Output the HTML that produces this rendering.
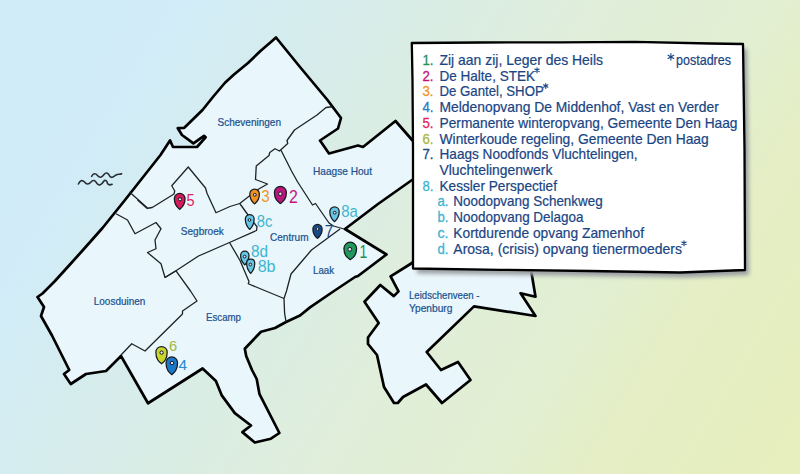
<!DOCTYPE html><html><head><meta charset="utf-8"><style>html,body{margin:0;padding:0;width:800px;height:474px;overflow:hidden;}svg{display:block;font-family:"Liberation Sans",sans-serif;}</style></head><body><svg width="800" height="474" viewBox="0 0 800 474">
<defs><linearGradient id="bg" gradientUnits="userSpaceOnUse" x1="0" y1="0" x2="796" y2="478"><stop offset="0" stop-color="#d0ecf9"/><stop offset="0.16" stop-color="#d1ecf8"/><stop offset="0.39" stop-color="#d9ede6"/><stop offset="0.55" stop-color="#e0eedb"/><stop offset="0.73" stop-color="#e2efd0"/><stop offset="0.8" stop-color="#e5eec5"/><stop offset="1" stop-color="#e7efbe"/></linearGradient>
<filter id="sh" x="-10%" y="-10%" width="130%" height="130%"><feGaussianBlur stdDeviation="2.2"/></filter></defs>
<rect width="800" height="474" fill="url(#bg)"/>
<path d="M91.6,176.3 C93.5,173 95.5,173 97.5,175.5 C99.5,178 101.5,178 104,174.5 C106,172 108,172.5 110,176.5 C112,179 114,176 116,175 C118,174 120,174.5 121.6,173.7" fill="none" stroke="#2a2f36" stroke-width="1.6" stroke-linecap="round"/>
<path d="M78.4,184 C80,180.5 82,179.5 84.5,182 C86.5,184.5 88.5,185 91,182 C93,179.5 95,180 97,183.5 C99,186 101.5,185 103.5,181.5 C105.5,179 107,181 107.5,183.5 C108.5,185 110.5,185 112.1,184.3" fill="none" stroke="#2a2f36" stroke-width="1.6" stroke-linecap="round"/>
<polygon points="430,240 412,263 390.6,276.4 398.5,291.4 393.8,296.1 380.3,285 364.5,301.7 378.7,323 368,337.5 368,344 377,355 384,387 394,403 397.75,403 403,397 415,390.5 426,384.5 442,403 470.5,380 458,362 441,370 426.7,352 474,306.4 535.5,316 520.6,293.25 535.5,296.75 532,275.75 525,240" fill="#e9f6fc" stroke="#000" stroke-width="2.7" stroke-linejoin="round"/>
<polygon points="276,37.5 300,67 327.5,100 341,118 338,128.5 320,140.5 329,153.5 358,145.5 363,147 395.5,121 413,141 440,150 440,175 412,180 378,204 345,229 386.5,254.5 358,276 355,277 334,291 310,307.4 300,315.5 286,322 275,328 261,331.7 244.8,348.7 246.2,356 252,370 256.7,379 259.5,394.2 279.4,433 270.9,438.7 254.8,442.5 242.4,432.1 251,425.5 234.8,413.1 221.6,395.1 215.9,380.9 202.6,368.5 148,403.25 121,356 106,371 86,374 70.75,384 64,374 69.25,370 52,335.5 41,316 44,307 37.5,297 42.5,293.5 54.5,281.5 69.5,265 83,250 102.5,228 125,200 160.5,155 170,140.4 173,147 197,147 205.6,137.3 204,135.8 193.4,143.4 182,135 177.8,128.2 184.3,127.8 202.5,110 213.75,96 225,82.75 234,74.5 248,63 261,50.5 271.5,41.5" fill="#e9f6fc" stroke="#000" stroke-width="2.7" stroke-linejoin="round"/>
<polyline points="332,106.75 326,107.5 317,115 294.5,130 287,140.5 287.75,143.5 279.5,151 275,148.75 269.75,152.5 269,155.5 256.25,166 255.5,179.5 267.5,184 257,190 239.75,203.5 230,206.5 216,212.75 207,193.25 205.5,188 188.25,167 171.75,185.75 174.75,191 174,194 152.25,207.5 147.75,208.25 129.5,192" fill="none" stroke="#1e2326" stroke-width="1.3" stroke-linejoin="round"/>
<polyline points="281,150.25 291.5,171 297.5,181.75 312.5,205 315.5,203.5 329,223 333.5,226 344,229" fill="none" stroke="#1e2326" stroke-width="1.3" stroke-linejoin="round"/>
<polyline points="239.75,203.5 249.5,217 257,226.75 256.5,230.5 229.5,242.5 198.5,256 176,270.8 165,277.5" fill="none" stroke="#1e2326" stroke-width="1.3" stroke-linejoin="round"/>
<polyline points="116,213.75 127.5,220 135,233.75 156,222.5 161,228.75 155,240 156,248.75 147.5,252.5 161,263.75 165,277.5 176,270.8" fill="none" stroke="#1e2326" stroke-width="1.3" stroke-linejoin="round"/>
<polyline points="176,270.8 190.5,291 197,301 182.5,311 182.5,314 145,351 131.75,343.75 121,355" fill="none" stroke="#1e2326" stroke-width="1.3" stroke-linejoin="round"/>
<polyline points="229.5,242.5 240,260.5 249,281.5 248.25,283.75 267,291.5 284,298.5" fill="none" stroke="#1e2326" stroke-width="1.3" stroke-linejoin="round"/>
<polyline points="340,229 311.5,250 300,263.5 291,274 286.5,291 284,298.5 284.6,313.3 286.1,322.1" fill="none" stroke="#1e2326" stroke-width="1.3" stroke-linejoin="round"/>
<polyline points="137.5,200 147.5,208.75" fill="none" stroke="#1e2326" stroke-width="1.3" stroke-linejoin="round"/>
<text x="217.5" y="125.5" font-size="10.3" fill="#20528e" stroke="#20528e" stroke-width="0.22" textLength="63.5" lengthAdjust="spacingAndGlyphs">Scheveningen</text>
<text x="313" y="175" font-size="10.3" fill="#20528e" stroke="#20528e" stroke-width="0.22" textLength="59" lengthAdjust="spacingAndGlyphs">Haagse Hout</text>
<text x="180.8" y="235" font-size="10.3" fill="#20528e" stroke="#20528e" stroke-width="0.22" textLength="43" lengthAdjust="spacingAndGlyphs">Segbroek</text>
<text x="270" y="241" font-size="10.3" fill="#20528e" stroke="#20528e" stroke-width="0.22" textLength="38.5" lengthAdjust="spacingAndGlyphs">Centrum</text>
<text x="313" y="274" font-size="10.3" fill="#20528e" stroke="#20528e" stroke-width="0.22" textLength="21" lengthAdjust="spacingAndGlyphs">Laak</text>
<text x="93.8" y="305.3" font-size="10.3" fill="#20528e" stroke="#20528e" stroke-width="0.22" textLength="51.5" lengthAdjust="spacingAndGlyphs">Loosduinen</text>
<text x="206" y="321" font-size="10.3" fill="#20528e" stroke="#20528e" stroke-width="0.22" textLength="35" lengthAdjust="spacingAndGlyphs">Escamp</text>
<text x="409" y="299" font-size="10.3" fill="#20528e" stroke="#20528e" stroke-width="0.22" textLength="70.5" lengthAdjust="spacingAndGlyphs">Leidschenveen -</text>
<text x="409" y="311.5" font-size="10.3" fill="#20528e" stroke="#20528e" stroke-width="0.22" textLength="43.4" lengthAdjust="spacingAndGlyphs">Ypenburg</text>
<path d="M350.25,259.68 C347.40,257.67 343.93,255.45 343.93,248.55 A6.32,6.32 0 0 1 356.57,248.55 C356.57,255.45 353.10,257.67 350.25,259.68 Z" fill="#1f9a5c" stroke="#161b20" stroke-width="1.25" stroke-linejoin="round"/><circle cx="349.80" cy="249.30" r="1.90" fill="#e4e0ec" stroke="#161b20" stroke-width="1"/>
<path d="M280.40,203.57 C277.71,201.56 274.42,199.33 274.42,192.40 A5.97,5.97 0 0 1 286.38,192.40 C286.38,199.33 283.09,201.56 280.40,203.57 Z" fill="#b8177d" stroke="#161b20" stroke-width="1.25" stroke-linejoin="round"/><circle cx="280.30" cy="193.80" r="1.79" fill="#e4e0ec" stroke="#161b20" stroke-width="1"/>
<path d="M254.60,203.88 C252.45,202.08 249.82,200.08 249.82,193.90 A4.78,4.78 0 0 1 259.38,193.90 C259.38,200.08 256.75,202.08 254.60,203.88 Z" fill="#f2911e" stroke="#161b20" stroke-width="1.25" stroke-linejoin="round"/><circle cx="254.80" cy="194.80" r="1.43" fill="#e4e0ec" stroke="#161b20" stroke-width="1"/>
<path d="M171.80,374.68 C169.20,372.52 166.03,370.12 166.03,362.70 A5.77,5.77 0 0 1 177.57,362.70 C177.57,370.12 174.40,372.52 171.80,374.68 Z" fill="#1a78c8" stroke="#161b20" stroke-width="1.25" stroke-linejoin="round"/><circle cx="172.00" cy="363.00" r="1.73" fill="#e4e0ec" stroke="#161b20" stroke-width="1"/>
<path d="M179.70,209.38 C177.28,207.42 174.32,205.24 174.32,198.50 A5.38,5.38 0 0 1 185.07,198.50 C185.07,205.24 182.12,207.42 179.70,209.38 Z" fill="#d61b5b" stroke="#161b20" stroke-width="1.25" stroke-linejoin="round"/><circle cx="180.00" cy="199.30" r="1.61" fill="#e4e0ec" stroke="#161b20" stroke-width="1"/>
<path d="M161.53,363.77 C158.98,361.69 155.88,359.37 155.88,352.17 A5.65,5.65 0 0 1 167.18,352.17 C167.18,359.37 164.07,361.69 161.53,363.77 Z" fill="#cbd62c" stroke="#161b20" stroke-width="1.25" stroke-linejoin="round"/><circle cx="161.60" cy="352.60" r="1.70" fill="#e4e0ec" stroke="#161b20" stroke-width="1"/>
<path d="M317.50,238.38 C315.42,236.69 312.88,234.81 312.88,229.00 A4.62,4.62 0 0 1 322.12,229.00 C322.12,234.81 319.58,236.69 317.50,238.38 Z" fill="#184a85" stroke="#161b20" stroke-width="1.25" stroke-linejoin="round"/><circle cx="317.50" cy="229.00" r="1.39" fill="#e4e0ec" stroke="#161b20" stroke-width="1"/>
<path d="M334.50,221.68 C332.40,219.86 329.82,217.85 329.82,211.60 A4.68,4.68 0 0 1 339.18,211.60 C339.18,217.85 336.60,219.86 334.50,221.68 Z" fill="#66c6e4" stroke="#161b20" stroke-width="1.25" stroke-linejoin="round"/><circle cx="334.70" cy="212.70" r="1.40" fill="#e4e0ec" stroke="#161b20" stroke-width="1"/>
<path d="M249.72,229.38 C247.75,227.51 245.32,225.44 245.32,219.03 A4.40,4.40 0 0 1 254.12,219.03 C254.12,225.44 251.70,227.51 249.72,229.38 Z" fill="#66c6e4" stroke="#161b20" stroke-width="1.25" stroke-linejoin="round"/><circle cx="249.50" cy="220.00" r="1.35" fill="#e4e0ec" stroke="#161b20" stroke-width="1"/>
<path d="M244.80,264.88 C242.92,263.15 240.62,261.24 240.62,255.30 A4.17,4.17 0 0 1 248.98,255.30 C248.98,261.24 246.68,263.15 244.80,264.88 Z" fill="#66c6e4" stroke="#161b20" stroke-width="1.25" stroke-linejoin="round"/><circle cx="244.60" cy="256.60" r="1.35" fill="#e4e0ec" stroke="#161b20" stroke-width="1"/>
<path d="M250.70,273.38 C248.87,271.53 246.62,269.47 246.62,263.10 A4.08,4.08 0 0 1 254.77,263.10 C254.77,269.47 252.53,271.53 250.70,273.38 Z" fill="#66c6e4" stroke="#161b20" stroke-width="1.25" stroke-linejoin="round"/><circle cx="250.40" cy="264.50" r="1.35" fill="#e4e0ec" stroke="#161b20" stroke-width="1"/>
<text x="359.50" y="258.10" font-size="17.71" fill="#1e9050" textLength="7.70" lengthAdjust="spacingAndGlyphs">1</text>
<text x="288.95" y="202.75" font-size="18.21" fill="#c4147c" textLength="8.85" lengthAdjust="spacingAndGlyphs">2</text>
<text x="261.20" y="202.00" font-size="17.14" fill="#f39424" textLength="8.40" lengthAdjust="spacingAndGlyphs">3</text>
<text x="178.40" y="369.60" font-size="14.14" fill="#2a8ad0" textLength="8.60" lengthAdjust="spacingAndGlyphs">4</text>
<text x="186.45" y="206.00" font-size="17.14" fill="#e0245e" textLength="8.10" lengthAdjust="spacingAndGlyphs">5</text>
<text x="168.90" y="350.70" font-size="15.00" fill="#a3b83a" textLength="8.20" lengthAdjust="spacingAndGlyphs">6</text>
<text x="324.70" y="236.50" font-size="16.43" fill="#1c4b84" textLength="8.60" lengthAdjust="spacingAndGlyphs">7</text>
<text x="341.20" y="217.30" font-size="16.86" fill="#3db5d0" textLength="16.60" lengthAdjust="spacingAndGlyphs">8a</text>
<text x="256.70" y="226.75" font-size="17.14" fill="#3db5d0" textLength="15.60" lengthAdjust="spacingAndGlyphs">8c</text>
<text x="250.95" y="256.75" font-size="17.14" fill="#3db5d0" textLength="17.10" lengthAdjust="spacingAndGlyphs">8d</text>
<text x="257.70" y="271.75" font-size="17.14" fill="#3db5d0" textLength="17.85" lengthAdjust="spacingAndGlyphs">8b</text>
<polygon points="415.8,48 484,47.5 564,47.3 639,46.8 714,48.5 747,49 748.5,155 749,275 684,277.5 594,276 504,274.8 417,273.5 417,155 416.5,85" fill="#9a9ea2" opacity="1" filter="url(#sh)"/>
<polygon points="411.8,43 480,42.5 560,42.3 635,41.8 710,43.5 743,44 744.5,150 745,270 680,272.5 590,271 500,269.8 413,268.5 413,150 412.5,80" fill="#fff" stroke="#000" stroke-width="2.3" stroke-linejoin="round"/>
<text x="422.5" y="64.90" font-size="14.5" fill="#22915a" stroke="#22915a" stroke-width="0.3" textLength="11" lengthAdjust="spacingAndGlyphs">1.</text>
<text x="439.5" y="64.90" font-size="14.5" fill="#1a4584" stroke="#1a4584" stroke-width="0.22" textLength="163.50" lengthAdjust="spacingAndGlyphs">Zij aan zij, Leger des Heils</text>
<text x="422.5" y="80.62" font-size="14.5" fill="#c4147c" stroke="#c4147c" stroke-width="0.3" textLength="11" lengthAdjust="spacingAndGlyphs">2.</text>
<text x="439.5" y="80.62" font-size="14.5" fill="#1a4584" stroke="#1a4584" stroke-width="0.22" textLength="95.50" lengthAdjust="spacingAndGlyphs">De Halte, STEK</text>
<path d="M537.00,67.82L537.00,72.82M539.17,69.07L534.83,71.57M539.17,71.57L534.83,69.07" stroke="#1a4584" stroke-width="1.1" stroke-linecap="round"/>
<text x="422.5" y="96.34" font-size="14.5" fill="#f39424" stroke="#f39424" stroke-width="0.3" textLength="11" lengthAdjust="spacingAndGlyphs">3.</text>
<text x="439.5" y="96.34" font-size="14.5" fill="#1a4584" stroke="#1a4584" stroke-width="0.22" textLength="104.25" lengthAdjust="spacingAndGlyphs">De Gantel, SHOP</text>
<path d="M545.75,83.54L545.75,88.54M547.92,84.79L543.58,87.29M547.92,87.29L543.58,84.79" stroke="#1a4584" stroke-width="1.1" stroke-linecap="round"/>
<text x="422.5" y="112.06" font-size="14.5" fill="#1f7cc9" stroke="#1f7cc9" stroke-width="0.3" textLength="11" lengthAdjust="spacingAndGlyphs">4.</text>
<text x="439.5" y="112.06" font-size="14.5" fill="#1a4584" stroke="#1a4584" stroke-width="0.22" textLength="279.25" lengthAdjust="spacingAndGlyphs">Meldenopvang De Middenhof, Vast en Verder</text>
<text x="422.5" y="127.78" font-size="14.5" fill="#e0245e" stroke="#e0245e" stroke-width="0.3" textLength="11" lengthAdjust="spacingAndGlyphs">5.</text>
<text x="439.5" y="127.78" font-size="14.5" fill="#1a4584" stroke="#1a4584" stroke-width="0.22" textLength="298.00" lengthAdjust="spacingAndGlyphs">Permanente winteropvang, Gemeente Den Haag</text>
<text x="422.5" y="143.50" font-size="14.5" fill="#a9b83c" stroke="#a9b83c" stroke-width="0.3" textLength="11" lengthAdjust="spacingAndGlyphs">6.</text>
<text x="439.5" y="143.50" font-size="14.5" fill="#1a4584" stroke="#1a4584" stroke-width="0.22" textLength="269.25" lengthAdjust="spacingAndGlyphs">Winterkoude regeling, Gemeente Den Haag</text>
<text x="422.5" y="159.22" font-size="14.5" fill="#1c4b84" stroke="#1c4b84" stroke-width="0.3" textLength="11" lengthAdjust="spacingAndGlyphs">7.</text>
<text x="439.5" y="159.22" font-size="14.5" fill="#1a4584" stroke="#1a4584" stroke-width="0.22" textLength="198.10" lengthAdjust="spacingAndGlyphs">Haags Noodfonds Vluchtelingen,</text>
<text x="439.5" y="174.94" font-size="14.5" fill="#1a4584" stroke="#1a4584" stroke-width="0.22" textLength="112.90" lengthAdjust="spacingAndGlyphs">Vluchtelingenwerk</text>
<text x="422.5" y="190.66" font-size="14.5" fill="#3db5d0" stroke="#3db5d0" stroke-width="0.3" textLength="11" lengthAdjust="spacingAndGlyphs">8.</text>
<text x="439.5" y="190.66" font-size="14.5" fill="#1a4584" stroke="#1a4584" stroke-width="0.22" textLength="117.50" lengthAdjust="spacingAndGlyphs">Kessler Perspectief</text>
<text x="437.5" y="206.38" font-size="14.5" fill="#3db5d0" stroke="#3db5d0" stroke-width="0.3" textLength="11" lengthAdjust="spacingAndGlyphs">a.</text>
<text x="453.3" y="206.38" font-size="14.5" fill="#1a4584" stroke="#1a4584" stroke-width="0.22" textLength="149.40" lengthAdjust="spacingAndGlyphs">Noodopvang Schenkweg</text>
<text x="437.5" y="222.10" font-size="14.5" fill="#3db5d0" stroke="#3db5d0" stroke-width="0.3" textLength="11" lengthAdjust="spacingAndGlyphs">b.</text>
<text x="453.3" y="222.10" font-size="14.5" fill="#1a4584" stroke="#1a4584" stroke-width="0.22" textLength="130.20" lengthAdjust="spacingAndGlyphs">Noodopvang Delagoa</text>
<text x="437.5" y="237.82" font-size="14.5" fill="#3db5d0" stroke="#3db5d0" stroke-width="0.3" textLength="11" lengthAdjust="spacingAndGlyphs">c.</text>
<text x="453.3" y="237.82" font-size="14.5" fill="#1a4584" stroke="#1a4584" stroke-width="0.22" textLength="190.70" lengthAdjust="spacingAndGlyphs">Kortdurende opvang Zamenhof</text>
<text x="437.5" y="253.54" font-size="14.5" fill="#3db5d0" stroke="#3db5d0" stroke-width="0.3" textLength="11" lengthAdjust="spacingAndGlyphs">d.</text>
<text x="453.3" y="253.54" font-size="14.5" fill="#1a4584" stroke="#1a4584" stroke-width="0.22" textLength="228.70" lengthAdjust="spacingAndGlyphs">Arosa, (crisis) opvang tienermoeders</text>
<path d="M684.00,240.74L684.00,245.74M686.17,241.99L681.83,244.49M686.17,244.49L681.83,241.99" stroke="#1a4584" stroke-width="1.1" stroke-linecap="round"/>
<path d="M670.90,53.50L670.90,60.10M673.76,55.15L668.04,58.45M673.76,58.45L668.04,55.15" stroke="#1a4584" stroke-width="1.1" stroke-linecap="round"/>
<text x="676" y="64.9" font-size="14.5" fill="#1a4584" stroke="#1a4584" stroke-width="0.22" textLength="55" lengthAdjust="spacingAndGlyphs">postadres</text>
</svg></body></html>
